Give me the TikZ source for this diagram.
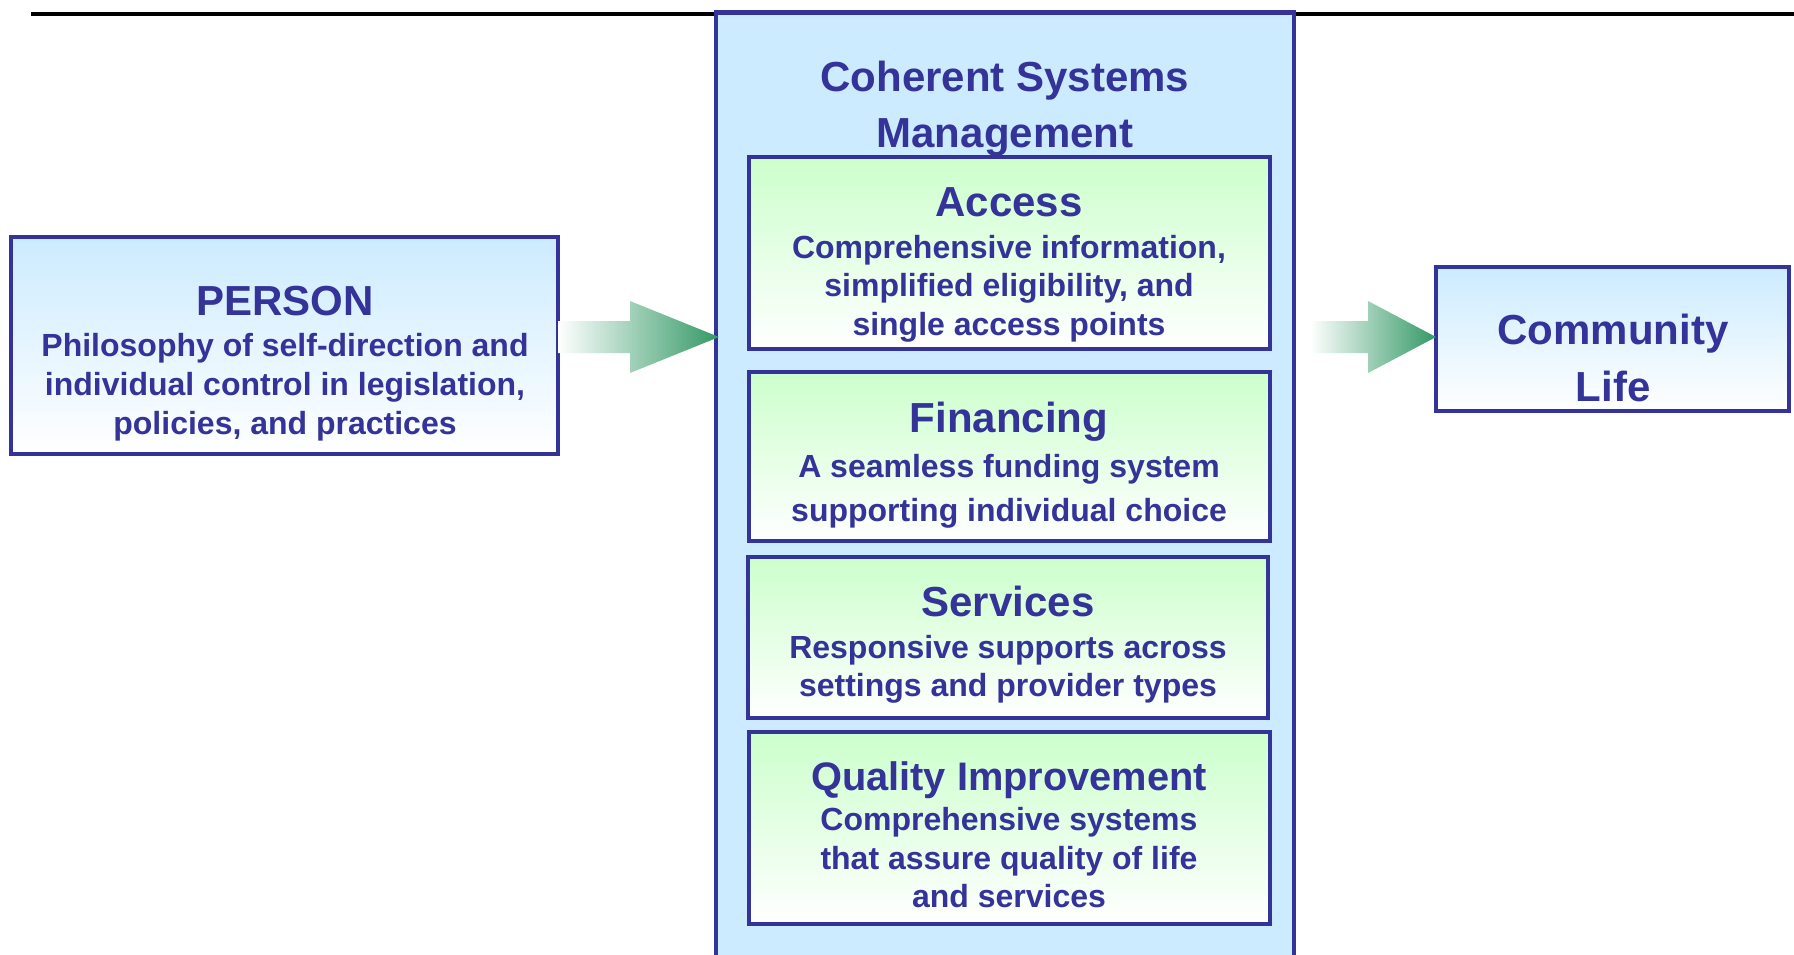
\documentclass[tikz,border=0pt]{standalone}
\usepackage{fontspec}
\setmainfont{Liberation Sans}
\definecolor{navy}{RGB}{51,51,153}
\definecolor{boxblue}{RGB}{204,235,255}
\definecolor{boxgreen}{RGB}{204,255,204}
\definecolor{arrowgreen}{RGB}{51,153,102}
\tikzset{
  framebox/.style={draw=navy, line width=2.25pt, rectangle, inner sep=0pt, outer sep=0pt},
  centralbox/.style={framebox, fill=boxblue},
  bluegrad/.style={framebox, top color=boxblue, bottom color=white},
  greengrad/.style={framebox, top color=boxgreen, bottom color=white},
  titletext/.style={font=\fontsize{21}{25}\selectfont\bfseries, text=navy, anchor=base, inner sep=0pt},
  smalltitle/.style={titletext, font=\fontsize{19.9}{24}\selectfont\bfseries},
  bodytext/.style={font=\fontsize{16}{19}\selectfont\bfseries, text=navy, anchor=base, inner sep=0pt},
  flowarrow/.style={left color=white, right color=arrowgreen, draw=none},
  topline/.style={draw=black, line width=2pt},
}
% #1 style, #2 name, #3 x1, #4 y1, #5 x2, #6 y2  (pixel units)
\newcommand\mkbox[6]{%
  \pgfmathsetmacro\bxc{(#3+#5)/2}\pgfmathsetmacro\byc{(#4+#6)/2}%
  \pgfmathsetmacro\bw{(#5-#3)*0.5}\pgfmathsetmacro\bh{(#6-#4)*0.5}%
  \node[#1, minimum width=\bw pt, minimum height=\bh pt] (#2) at (\bxc,\byc) {};}
\begin{document}
\begin{tikzpicture}[x=0.5pt,y=-0.5pt]
\clip (0,0) rectangle (1794,954);
\fill[white] (0,0) rectangle (1794,954);
% top rule
\coordinate (ruleL) at (31,14);
\coordinate (ruleR) at (1800,14);
\draw[topline] (ruleL) -- (ruleR);
% central column
\mkbox{centralbox}{csm}{716}{12.5}{1294}{1010}
\node[titletext] (csmt1) at (1005,91) {Coherent Systems};
\node[titletext] (csmt2) at (1005,147) {Management};
% inner boxes
\mkbox{greengrad}{access}{749}{157}{1270}{349}
\mkbox{greengrad}{financing}{749}{372}{1270}{541}
\mkbox{greengrad}{services}{748}{557}{1268}{718}
\mkbox{greengrad}{quality}{749}{732}{1270}{924}
\node[titletext] (acct) at (1009,216) {Access};
\node[bodytext] (acc1) at (1009,258.5) {Comprehensive information,};
\node[bodytext] (acc2) at (1009,296.5) {simplified eligibility, and};
\node[bodytext] (acc3) at (1009,335) {single access points};
\node[titletext] (fint) at (1009,432) {Financing};
\node[bodytext] (fin1) at (1009,477.5) {A seamless funding system};
\node[bodytext] (fin2) at (1009,521) {supporting individual choice};
\node[titletext] (sert) at (1008,616) {Services};
\node[bodytext] (ser1) at (1008,658) {Responsive supports across};
\node[bodytext] (ser2) at (1008,696) {settings and provider types};
\node[smalltitle] (qint) at (1009,790) {Quality Improvement};
\node[bodytext] (qin1) at (1009,830.5) {Comprehensive systems};
\node[bodytext] (qin2) at (1009,869.5) {that assure quality of life};
\node[bodytext] (qin3) at (1009,907) {and services};
% person
\mkbox{bluegrad}{person}{11}{237}{558}{454}
\node[titletext] (pert) at (285,315) {PERSON};
\node[bodytext] (per1) at (285,356.5) {Philosophy of self-direction and};
\node[bodytext] (per2) at (285,395.5) {individual control in legislation,};
\node[bodytext] (per3) at (285,434.5) {policies, and practices};
% community
\mkbox{bluegrad}{community}{1436}{267}{1789}{411}
\node[titletext] (comt1) at (1613,344) {Community};
\node[titletext] (comt2) at (1613,401) {Life};
% block arrows
\path[flowarrow] (person.east |- 0,321) -- (630,321) -- (630,301) -- (719,337)
  -- (630,373) -- (630,353) -- (person.east |- 0,353) -- cycle;
\path[flowarrow] (1310,321) -- (1368,321) -- (1368,301) -- (community.west |- 0,337)
  -- (1368,373) -- (1368,353) -- (1310,353) -- cycle;
\end{tikzpicture}
\end{document}
